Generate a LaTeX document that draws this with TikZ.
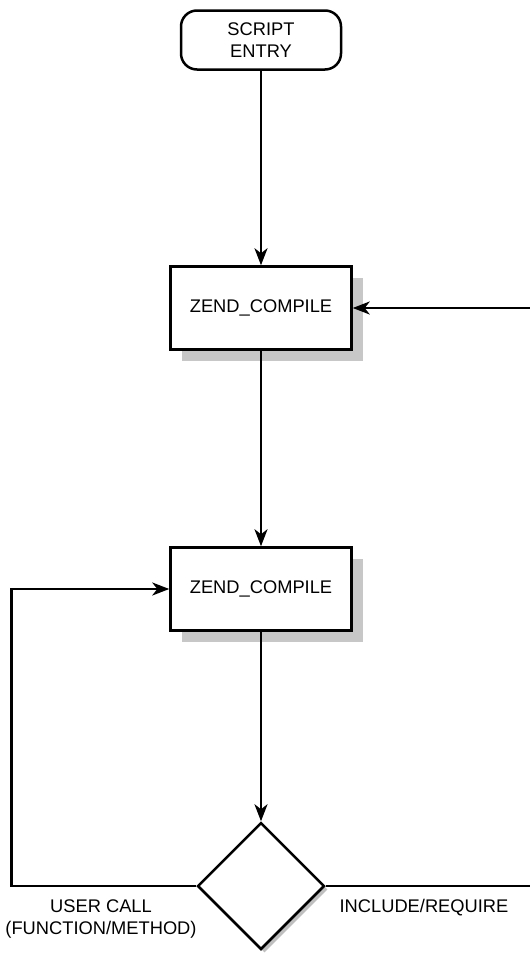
\documentclass[tikz,border=0pt]{standalone}
\usepackage{fontspec}
\setmainfont{Liberation Sans}
\usetikzlibrary{arrows.meta,shapes.geometric,shadows}
\begin{document}
\begin{tikzpicture}[x=1pt,y=-1pt, line width=2.5pt,
  every node/.style={font=\fontsize{18.3}{22.5}\selectfont},
  startbox/.style={draw, rounded corners=16pt, minimum width=160pt, minimum height=59pt, align=center, inner sep=0pt},
  procbox/.style={draw, fill=white, minimum width=181pt, minimum height=83pt, inner sep=0pt,
    drop shadow={shadow xshift=11pt, shadow yshift=-11pt, fill=black!22, opacity=1}},
  decbox/.style={draw, diamond, fill=white, minimum width=127pt, minimum height=127pt, inner sep=0pt,
    drop shadow={shadow xshift=3.5pt, shadow yshift=-3.5pt, fill=black!25, opacity=1}},
  arr/.style={-{Stealth[length=17pt,width=13pt,inset=5pt]}, line width=2.5pt},
  lbl/.style={align=center, inner sep=0pt}]
\useasboundingbox (0,0) rectangle (530,953);
\node[startbox] (entry) at (261,40) {SCRIPT\\ENTRY};
\node[procbox] (c1) at (261,308) {ZEND\_COMPILE};
\node[procbox] (c2) at (261,589) {ZEND\_COMPILE};
\node[decbox] (d) at (261,886) {};
\coordinate (lft) at (11.5,589);
\coordinate (rgt) at (536,308);
\draw[arr] (entry) -- (c1);
\draw[arr] (c1) -- (c2);
\draw[arr] (c2) -- (d);
\draw[arr] (d.west) -| (lft) -- (c2.west);
\draw[arr] (d.east) -| (rgt) -- (c1.east);
\node[lbl] (uc) at (101,919) {USER CALL\\(FUNCTION/METHOD)};
\node[lbl] (ir) at (424,908) {INCLUDE/REQUIRE};
\end{tikzpicture}
\end{document}
